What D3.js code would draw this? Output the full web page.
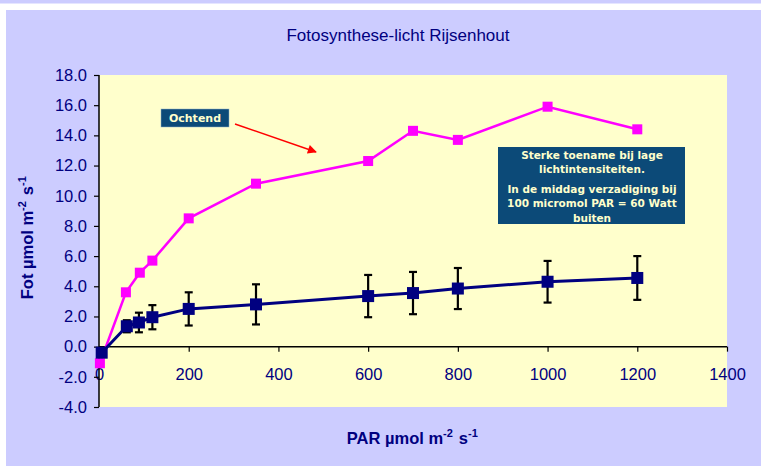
<!DOCTYPE html>
<html><head><meta charset="utf-8">
<script src="https://cdn.jsdelivr.net/npm/d3@7"></script>
<style>
html,body{margin:0;padding:0;background:#fff;}
svg{display:block;}
</style></head>
<body>
<svg id="c" width="761" height="466"></svg>
<script>
const title = "Fotosynthese-licht Rijsenhout";
const xTicks = [0,200,400,600,800,1000,1200,1400];
const yTicks = [-4,-2,0,2,4,6,8,10,12,14,16,18];
const morningPar = [2,60,91,119,200,350,600,700,800,1000,1200];
const morningFot = [-1.1,3.6,4.9,5.7,8.5,10.8,12.3,14.3,13.7,15.9,14.4];
const middayPar = [6,62,89,119,200,350,600,700,800,1000,1200];
const middayFot = [-0.4,1.35,1.6,1.95,2.5,2.8,3.35,3.55,3.85,4.3,4.55];
const middayErr = [0,0.4,0.65,0.8,1.1,1.33,1.4,1.4,1.36,1.38,1.45];
const noteOchtend = "Ochtend";
const noteLines = ["Sterke toename bij lage","lichtintensiteiten.","In de middag verzadiging bij","100 micromol PAR = 60 Watt","buiten"];

const svg = d3.select("#c");
const navy = "#000080";
const font = "'Liberation Sans', Arial, sans-serif";
const hand = "'Comic Sans MS','DejaVu Sans', sans-serif";

// backgrounds
svg.append("rect").attr("x",0).attr("y",0).attr("width",761).attr("height",466).attr("fill","#fff");
svg.append("rect").attr("x",0).attr("y",0).attr("width",761).attr("height",3.5).attr("fill","#CCCCFF");
svg.append("rect").attr("x",6).attr("y",10).attr("width",755).attr("height",456).attr("fill","#CCCCFF");

const x = d3.scaleLinear().domain([0,1400]).range([99,727]);
const y = d3.scaleLinear().domain([-4,18]).range([407,75]);

svg.append("rect").attr("x",x(0)).attr("y",y(18)).attr("width",x(1400)-x(0)).attr("height",y(-4)-y(18)).attr("fill","#FFFFCC");

// title
svg.append("text").attr("x",398).attr("y",41).attr("text-anchor","middle")
  .attr("font-family",font).attr("font-size",17).attr("fill",navy).text(title);

// axes
const xAxis = d3.axisBottom(x).tickValues(xTicks).tickSize(5).tickFormat(d3.format("d"));
const gx = svg.append("g").attr("transform",`translate(0,${y(0)})`).call(xAxis);
gx.select(".domain").attr("stroke","#000").attr("stroke-width",1.5).attr("d",`M${x(0)},0H${x(1400)}`);
gx.selectAll(".tick line").attr("stroke","#000").attr("stroke-width",1.2);
gx.selectAll(".tick text").attr("y",28).attr("dy","0.32em").attr("font-family",font).attr("font-size",16.5).attr("fill",navy);

const yAxis = d3.axisLeft(y).tickValues(yTicks).tickSize(5).tickFormat(d3.format(".1f"));
const gy = svg.append("g").attr("transform",`translate(${x(0)},0)`).call(yAxis);
gy.select(".domain").attr("stroke","#000").attr("stroke-width",1.5).attr("d",`M0,${y(-4)}V${y(18)}`);
gy.selectAll(".tick line").attr("stroke","#000").attr("stroke-width",1.2);
gy.selectAll(".tick text").attr("x",-12).attr("font-family",font).attr("font-size",16.5).attr("fill",navy)
  .text(d => d3.format(".1f")(d).replace("−","-"));

// axis titles
function supLabel(g, parts){
  const t = g.append("text").attr("font-family",font).attr("font-weight","bold").attr("font-size",16.5).attr("fill",navy).attr("text-anchor","middle");
  parts.forEach(p=>{
    if(p.sup){
      t.append("tspan").attr("font-size",11).attr("dy",-7).text(p.t);
      t.append("tspan").attr("dy",7).text("\u200A");
    } else t.append("tspan").text(p.t);
  });
  return t;
}
supLabel(svg.append("g").attr("transform","translate(413,444)"),
  [{t:"PAR µmol m"},{t:"-2",sup:true},{t:" s"},{t:"-1",sup:true}]);
supLabel(svg.append("g").attr("transform","translate(33,237) rotate(-90)"),
  [{t:"Fot µmol m"},{t:"-2",sup:true},{t:" s"},{t:"-1",sup:true}]);

// lines
const line = d3.line().x(d=>x(d[0])).y(d=>y(d[1]));
const mData = morningPar.map((p,i)=>[p,morningFot[i]]);
const dData = middayPar.map((p,i)=>[p,middayFot[i],middayErr[i]]);

svg.append("path").datum(mData).attr("d",line).attr("fill","none").attr("stroke","#FF00FF").attr("stroke-width",2.5);
svg.append("path").datum(dData).attr("d",line).attr("fill","none").attr("stroke",navy).attr("stroke-width",3);

// error bars
const eb = svg.append("g").attr("stroke","#000").attr("stroke-width",2.2);
dData.filter(d=>d[2]>0).forEach(d=>{
  const cx = x(d[0]);
  eb.append("line").attr("x1",cx).attr("x2",cx).attr("y1",y(d[1]-d[2])).attr("y2",y(d[1]+d[2]));
  eb.append("line").attr("x1",cx-4).attr("x2",cx+4).attr("y1",y(d[1]-d[2])).attr("y2",y(d[1]-d[2]));
  eb.append("line").attr("x1",cx-4).attr("x2",cx+4).attr("y1",y(d[1]+d[2])).attr("y2",y(d[1]+d[2]));
});

// markers
svg.append("g").selectAll("rect").data(mData).join("rect")
  .attr("x",d=>x(d[0])-5).attr("y",d=>y(d[1])-5).attr("width",10).attr("height",10).attr("fill","#FF00FF");
svg.append("g").selectAll("rect").data(dData).join("rect")
  .attr("x",d=>x(d[0])-6).attr("y",d=>y(d[1])-6).attr("width",12).attr("height",12).attr("fill",navy);

// annotations
const boxCol = "#0C4A78";
svg.append("rect").attr("x",161).attr("y",109).attr("width",68).attr("height",18).attr("fill",boxCol).attr("stroke","#8fb0c8").attr("stroke-width",0.5);
svg.append("text").attr("x",195).attr("y",118).attr("dy","0.35em").attr("text-anchor","middle")
  .attr("font-family",hand).attr("font-weight","bold").attr("font-size",11).attr("fill","#FFFFCC").text(noteOchtend);

const defs = svg.append("defs");
defs.append("marker").attr("id","arr").attr("viewBox","0 0 10 10").attr("refX",9).attr("refY",5)
  .attr("markerWidth",11).attr("markerHeight",9).attr("markerUnits","userSpaceOnUse").attr("orient","auto")
  .append("path").attr("d","M0,0L10,5L0,10z").attr("fill","#FF0000");
svg.append("line").attr("x1",235).attr("y1",124).attr("x2",316).attr("y2",152)
  .attr("stroke","#FF0000").attr("stroke-width",1.5).attr("marker-end","url(#arr)");

svg.append("rect").attr("x",498).attr("y",147).attr("width",187).attr("height",77).attr("fill",boxCol);
const ly = [155,169.5,189.5,203.5,218];
noteLines.forEach((t,i)=>{
  svg.append("text").attr("x",592).attr("y",ly[i]).attr("dy","0.35em").attr("text-anchor","middle")
    .attr("font-family",hand).attr("font-weight","bold").attr("font-size",10.5).attr("fill","#FFFFCC").text(t);
});
</script>
</body></html>
